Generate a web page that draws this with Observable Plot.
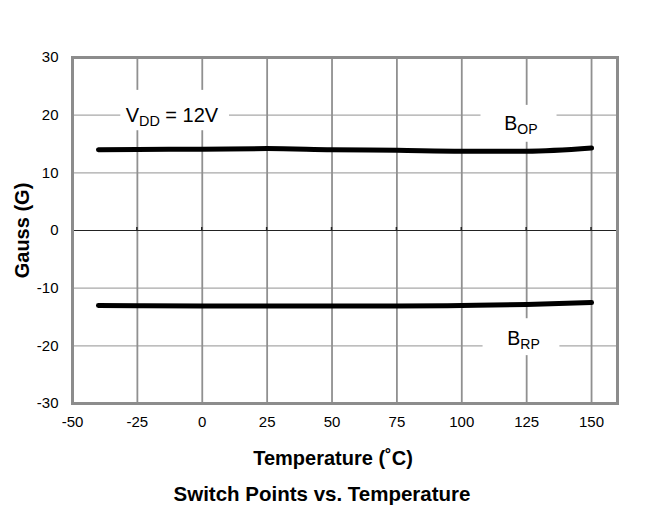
<!DOCTYPE html>
<html><head><meta charset="utf-8">
<script src="https://cdn.jsdelivr.net/npm/d3@7"></script>
<script src="https://cdn.jsdelivr.net/npm/@observablehq/plot@0.6"></script>
<style>
body{margin:0;background:#fff;}
svg{font-family:"Liberation Sans",Arial,sans-serif;}
</style>
</head><body><div id="chart"></div>
<script>
const temps = [-40, -25, 0, 25, 50, 75, 100, 125, 150];
const bop = [14.0, 14.05, 14.1, 14.2, 14.0, 13.9, 13.75, 13.75, 14.3];
const brp = [-13.0, -13.05, -13.1, -13.1, -13.1, -13.1, -13.0, -12.85, -12.5];
const xTicks = [-50, -25, 0, 25, 50, 75, 100, 125, 150];
const yTicks = [-30, -20, -10, 0, 10, 20, 30];

const opData = temps.map((t, i) => ({t, v: bop[i]}));
const rpData = temps.map((t, i) => ({t, v: brp[i]}));

const W = 653, H = 524;
const plot = Plot.plot({
  width: W, height: H,
  marginLeft: 72, marginRight: 36, marginTop: 57, marginBottom: 121,
  style: {fontFamily: '"Liberation Sans", Arial, sans-serif', fontSize: "15px", color: "#000", background: "#fff"},
  x: {type: "linear", domain: [-50, 160], ticks: xTicks, tickSize: 0, tickPadding: 13, label: null, tickFormat: d => String(d)},
  y: {type: "linear", domain: [-30, 30], ticks: yTicks, tickSize: 0, tickPadding: 14, label: null, tickFormat: d => String(d)},
  marks: [
    Plot.ruleY([-20, -10, 10, 20], {stroke: "#a8a8a8", strokeWidth: 1.2}),
    Plot.ruleX(xTicks.slice(1), {stroke: "#909090", strokeWidth: 1.8}),
    Plot.rect([{x1: -31.4, x2: 10.5, y1: 17.3, y2: 24.3}], {x1: "x1", x2: "x2", y1: "y1", y2: "y2", fill: "#fff"}),
    Plot.rect([{x1: 107.4, x2: 136.7, y1: 15.3, y2: 21.7}], {x1: "x1", x2: "x2", y1: "y1", y2: "y2", fill: "#fff"}),
    Plot.rect([{x1: 108.2, x2: 137.8, y1: -15.3, y2: -21.7}], {x1: "x1", x2: "x2", y1: "y1", y2: "y2", fill: "#fff"}),
    Plot.ruleY([0], {stroke: "#222", strokeWidth: 1.2}),
    Plot.line(opData, {x: "t", y: "v", curve: "monotone-x", stroke: "#000", strokeWidth: 5, strokeLinecap: "round"}),
    Plot.line(rpData, {x: "t", y: "v", curve: "monotone-x", stroke: "#000", strokeWidth: 5, strokeLinecap: "round"}),
    Plot.frame({stroke: "#8c8c8c", strokeWidth: 3}),
    Plot.text(["Temperature (˚C)"], {frameAnchor: "bottom", dx: -12, dy: 61, fontWeight: "bold", fontSize: 20}),
    Plot.text(["Switch Points vs. Temperature"], {frameAnchor: "bottom", dx: -23, dy: 97, fontWeight: "bold", fontSize: 20.5}),
    Plot.text(["Gauss (G)"], {frameAnchor: "left", textAnchor: "middle", dx: -50, rotate: -90, fontWeight: "bold", fontSize: 20})
  ]
});
document.getElementById("chart").appendChild(plot);

const sx = plot.scale("x"), sy = plot.scale("y");
const svg = d3.select(plot);
svg.append("g").selectAll("line").data(xTicks.slice(1)).join("line")
  .attr("x1", d => sx.apply(d)).attr("x2", d => sx.apply(d))
  .attr("y1", sy.apply(0) - 3).attr("y2", sy.apply(0) + 1)
  .attr("stroke", "#222").attr("stroke-width", 1.5);

const annos = [
  {x: -11.5, y: 20, main: "V", sub: "DD", tail: " = 12V", size: 20},
  {x: 123, y: 18.6, main: "B", sub: "OP", tail: "", size: 19.5},
  {x: 124, y: -18.8, main: "B", sub: "RP", tail: "", size: 19.5}
];
const g = svg.append("g");
annos.forEach(a => {
  const t = g.append("text")
    .attr("x", sx.apply(a.x)).attr("y", sy.apply(a.y))
    .attr("text-anchor", "middle").attr("dy", "0.35em")
    .attr("font-size", a.size).attr("fill", "#000");
  t.append("tspan").text(a.main);
  t.append("tspan").attr("font-size", a.size * 0.72).attr("dy", 4).text(a.sub);
  if (a.tail) t.append("tspan").attr("dy", -4).text(a.tail);
});
</script>
</body></html>
